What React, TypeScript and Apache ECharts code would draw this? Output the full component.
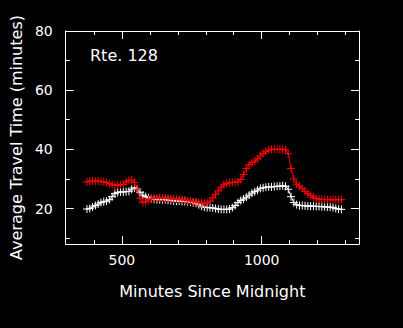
import React, { useEffect, useRef } from "react";
import * as echarts from "echarts";

const times = [
  375, 385, 395, 405, 415, 425, 435, 445, 455, 465, 475, 485, 495, 505, 515, 525, 535, 545, 555, 565,
  575, 585, 595, 605, 615, 625, 635, 645, 655, 665, 675, 685, 695, 705, 715, 725, 735, 745, 755, 765,
  775, 785, 795, 805, 815, 825, 835, 845, 855, 865, 875, 885, 895, 905, 915, 925, 935, 945, 955, 965,
  975, 985, 995, 1005, 1015, 1025, 1035, 1045, 1055, 1065, 1075, 1085, 1095, 1105, 1115, 1125, 1135,
  1145, 1155, 1165, 1175, 1185, 1195, 1205, 1215, 1225, 1235, 1245, 1255, 1265, 1275, 1285,
];

const redValues = [
  29.0, 29.2, 29.3, 29.2, 29.3, 29.1, 29.0, 28.8, 28.4, 28.0, 27.8, 27.9, 28.0, 28.2, 29.0, 29.5, 29.6, 28.8, 26.5, 23.5,
  22.0, 22.3, 23.0, 23.3, 23.4, 23.5, 23.6, 23.6, 23.5, 23.4, 23.3, 23.2, 23.2, 23.1, 23.0, 22.9, 22.7, 22.5, 22.3, 22.2,
  22.0, 21.8, 21.7, 21.9, 22.5, 23.6, 24.8, 26.0, 27.2, 28.0, 28.5, 28.7, 28.8, 28.8, 29.0, 29.8, 31.5, 33.5, 34.8, 35.5,
  36.0, 36.8, 37.8, 38.6, 39.3, 39.8, 40.0, 40.0, 40.0, 40.0, 40.0, 39.8, 38.5, 33.5, 30.0, 28.2, 27.5,
  26.8, 25.8, 25.0, 24.4, 23.8, 23.4, 23.2, 23.1, 23.0, 23.0, 23.0, 23.0, 23.0, 23.0, 23.0,
];

const whiteValues = [
  19.8, 20.0, 20.5, 21.0, 21.5, 22.0, 22.3, 22.5, 23.0, 24.0, 25.0, 25.4, 25.6, 25.6, 25.7, 25.8, 26.5, 27.0, 26.5, 25.5,
  24.5, 24.0, 23.6, 23.3, 23.1, 23.0, 23.0, 23.0, 23.0, 22.8, 22.7, 22.6, 22.5, 22.5, 22.4, 22.4, 22.3, 22.2, 22.0, 21.8,
  21.3, 20.8, 20.5, 20.3, 20.3, 20.2, 20.0, 19.8, 19.7, 19.7, 19.7, 19.8, 20.3, 21.0, 22.0, 22.7, 23.2, 23.8, 24.5, 25.2,
  25.7, 26.2, 26.8, 27.0, 27.2, 27.3, 27.3, 27.4, 27.5, 27.6, 27.7, 27.5, 26.5, 24.0, 22.0, 21.3, 21.0,
  21.0, 20.9, 20.8, 20.8, 20.8, 20.7, 20.7, 20.6, 20.6, 20.5, 20.5, 20.3, 20.0, 19.8, 19.7,
];

const xMajorTicks = [500, 1000];
const xMinorTicks = [400, 600, 700, 800, 900, 1100, 1200, 1300];
const yMajorTicks = [20, 40, 60, 80];
const yMinorTicks = [10, 30, 50, 70];

const X_MIN = 299;
const X_MAX = 1348;
const Y_MIN = 8;
const Y_MAX = 80;

const FONT = "DejaVu Sans";
const CROSS = "path://M0 4L8 4M4 0L4 8";

function xAxisDef(position: "bottom" | "top", ticks: number[], len: number, showLine: boolean, showLabel: boolean, name?: string) {
  return {
    type: "value",
    position,
    min: X_MIN,
    max: X_MAX,
    name,
    nameLocation: "middle",
    nameGap: 39,
    nameTextStyle: { color: "#fff", fontSize: 16, fontFamily: FONT },
    axisLine: { show: showLine, onZero: false, lineStyle: { color: "#fff", width: 1 } },
    axisTick: { show: true, inside: true, length: len, customValues: ticks, lineStyle: { color: "#fff", width: 1 } },
    axisLabel: showLabel
      ? {
          show: true,
          customValues: ticks,
          color: "#fff",
          fontSize: 14,
          fontFamily: FONT,
          margin: 9,
          formatter: (v: number) => String(v),
        }
      : { show: false },
    splitLine: { show: false },
  };
}

function yAxisDef(position: "left" | "right", ticks: number[], len: number, showLine: boolean, showLabel: boolean, name?: string) {
  return {
    type: "value",
    position,
    min: Y_MIN,
    max: Y_MAX,
    name,
    nameLocation: "middle",
    nameRotate: 90,
    nameGap: 36,
    nameTextStyle: { color: "#fff", fontSize: 16, fontFamily: FONT },
    axisLine: { show: showLine, onZero: false, lineStyle: { color: "#fff", width: 1 } },
    axisTick: { show: true, inside: true, length: len, customValues: ticks, lineStyle: { color: "#fff", width: 1 } },
    axisLabel: showLabel
      ? {
          show: true,
          customValues: ticks,
          color: "#fff",
          fontSize: 14,
          fontFamily: FONT,
          margin: 13,
          formatter: (v: number) => String(v),
        }
      : { show: false },
    splitLine: { show: false },
  };
}

export default function App() {
  const ref = useRef<HTMLDivElement>(null);

  useEffect(() => {
    document.body.style.margin = "0";
    document.body.style.background = "#000";
    const chart = echarts.init(ref.current!, undefined, { renderer: "svg" });
    const red = times.map((t, i) => [t, redValues[i]]);
    const white = times.map((t, i) => [t, whiteValues[i]]);
    chart.setOption({
      animation: false,
      backgroundColor: "#000",
      grid: { left: 62, top: 31, right: 44, bottom: 84, containLabel: false },
      xAxis: [
        xAxisDef("bottom", xMajorTicks, 8, true, true, "Minutes Since Midnight"),
        xAxisDef("bottom", xMinorTicks, 4, false, false),
        xAxisDef("top", xMajorTicks, 8, true, false),
        xAxisDef("top", xMinorTicks, 4, false, false),
      ],
      yAxis: [
        yAxisDef("left", yMajorTicks, 8, true, true, "Average Travel Time (minutes)"),
        yAxisDef("left", yMinorTicks, 4, false, false),
        yAxisDef("right", yMajorTicks, 8, true, false),
        yAxisDef("right", yMinorTicks, 4, false, false),
      ],
      graphic: [
        {
          type: "text",
          left: 90,
          top: 47,
          style: { text: "Rte. 128", fill: "#fff", fontSize: 16, fontFamily: FONT },
        },
      ],
      series: [
        {
          type: "line",
          name: "white",
          data: white,
          xAxisIndex: 0,
          yAxisIndex: 0,
          symbol: CROSS,
          symbolSize: 8,
          showAllSymbol: true,
          lineStyle: { color: "#fff", width: 1 },
          itemStyle: { color: "#fff", borderColor: "#fff", borderWidth: 1 },
        },
        {
          type: "line",
          name: "red",
          data: red,
          xAxisIndex: 0,
          yAxisIndex: 0,
          symbol: CROSS,
          symbolSize: 8,
          showAllSymbol: true,
          lineStyle: { color: "#ff0000", width: 1 },
          itemStyle: { color: "#ff0000", borderColor: "#ff0000", borderWidth: 1 },
        },
      ],
    });
    return () => chart.dispose();
  }, []);

  return (
    <div
      ref={ref}
      style={{ position: "fixed", left: 0, top: 0, width: 403, height: 328, background: "#000" }}
    />
  );
}
